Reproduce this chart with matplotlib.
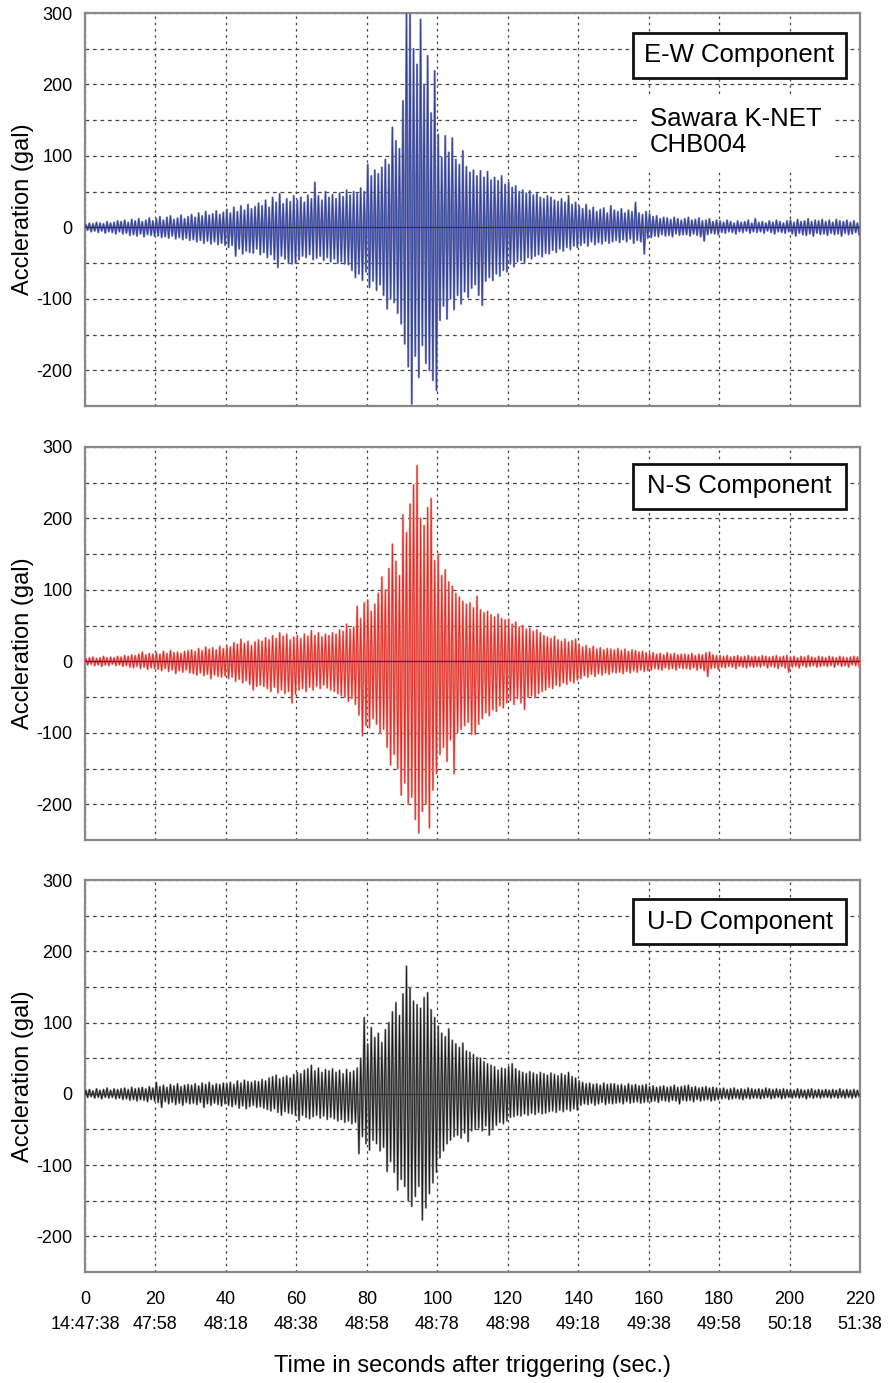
import matplotlib
matplotlib.use('Agg')
import matplotlib.pyplot as plt
import matplotlib.patches as mpatches
import numpy as np

plt.rcParams['font.family'] = ['Liberation Sans', 'DejaVu Sans']
plt.rcParams['axes.unicode_minus'] = False

# axis labels
seconds = [0, 20, 40, 60, 80, 100, 120, 140, 160, 180, 200, 220]
clock_labels = ['14:47:38', '47:58', '48:18', '48:38', '48:58', '48:78',
                '48:98', '49:18', '49:38', '49:58', '50:18', '51:38']
y_ticks = [300, 200, 100, 0, -100, -200]

# per-second peak / trough (gal), t = 0..219 s
ew_upper = [
    4, 6, 5, 7, 6, 5, 8, 6, 7, 9,
    8, 10, 7, 11, 9, 12, 8, 10, 13, 9,
    12, 15, 10, 14, 16, 11, 13, 17, 12, 15,
    18, 14, 20, 16, 22, 17, 19, 23, 18, 21,
    25, 20, 28, 22, 30, 24, 32, 26, 29, 34,
    30, 38, 28, 42, 35, 47, 33, 40, 36, 44,
    38, 42, 35, 45, 40, 63, 44, 38, 50, 42,
    46, 40, 48, 43, 52, 45, 50, 47, 55, 50,
    88, 72, 80, 75, 84, 95, 88, 140, 121, 110,
    177, 300, 298, 250, 228, 291, 200, 240, 160, 219,
    130, 98, 128, 105, 125, 95, 88, 107, 85, 77,
    80, 72, 79, 70, 78, 66, 70, 65, 72, 60,
    63, 56, 58, 50, 52, 48, 51, 45, 47, 42,
    40, 44, 42, 38, 36, 40, 35, 44, 32, 35,
    30, 26, 32, 24, 28, 22, 25, 27, 20, 30,
    24, 22, 26, 20, 24, 22, 35, 20, 18, 22,
    19, 15, 16, 12, 14, 13, 11, 14, 12, 10,
    12, 14, 10, 11, 13, 9, 10, 12, 8, 10,
    9, 7, 10, 8, 6, 9, 7, 8, 10, 6,
    12, 7, 8, 6, 9, 7, 10, 8, 6, 9,
    10, 7, 11, 8, 9, 12, 8, 10, 9, 11,
    8, 10, 7, 11, 9, 8, 10, 7, 9, 6,
]
ew_lower = [
    -4, -6, -5, -7, -5, -8, -6, -7, -9, -6,
    -9, -8, -11, -10, -12, -9, -13, -10, -11, -12,
    -12, -14, -13, -15, -12, -16, -14, -17, -15, -18,
    -17, -20, -18, -22, -19, -23, -20, -24, -22, -25,
    -28, -25, -40, -30, -37, -33, -35, -36, -30, -38,
    -35, -42, -38, -45, -56, -40, -44, -50, -51, -50,
    -45, -40, -42, -38, -45, -43, -40, -46, -42, -48,
    -44, -50, -48, -51, -52, -60, -70, -65, -74, -62,
    -84, -75, -88, -80, -95, -114, -100, -105, -120, -135,
    -163, -195, -247, -180, -210, -165, -190, -200, -214, -228,
    -130, -110, -128, -100, -115, -95, -107, -90, -98, -85,
    -80, -95, -109, -75, -70, -74, -65, -68, -60, -62,
    -51, -55, -48, -46, -50, -42, -44, -40, -38, -41,
    -36, -37, -32, -35, -30, -33, -28, -31, -26, -28,
    -25, -22, -26, -20, -24, -21, -23, -19, -22, -20,
    -18, -21, -17, -20, -16, -22, -18, -20, -37, -15,
    -14, -12, -13, -10, -12, -11, -13, -9, -11, -10,
    -10, -12, -9, -11, -13, -19, -10, -8, -9, -10,
    -7, -8, -6, -7, -9, -6, -7, -5, -8, -6,
    -7, -6, -8, -5, -7, -9, -6, -7, -8, -6,
    -9, -12, -8, -10, -11, -9, -12, -8, -10, -9,
    -11, -8, -10, -9, -12, -8, -10, -9, -7, -10,
]

ns_upper = [
    4, 5, 6, 4, 5, 7, 5, 6, 5, 7,
    6, 8, 7, 9, 8, 10, 13, 9, 11, 10,
    12, 10, 14, 11, 15, 12, 13, 11, 14, 15,
    16, 14, 18, 15, 20, 17, 19, 16, 21, 18,
    22, 20, 26, 24, 31, 25, 28, 22, 27, 30,
    28, 33, 30, 36, 32, 40, 35, 38, 30, 34,
    36, 32, 38, 35, 43, 36, 40, 34, 38, 36,
    40, 38, 44, 42, 52, 45, 48, 77, 60, 82,
    86, 70, 80, 95, 118, 100, 130, 164, 140, 120,
    205, 180, 220, 247, 274, 200, 190, 215, 228, 141,
    150, 120, 128, 111, 105, 95, 90, 84, 80, 82,
    75, 91, 72, 68, 70, 65, 62, 66, 60, 58,
    59, 52, 55, 48, 50, 45, 46, 42, 44, 40,
    36, 34, 32, 35, 30, 28, 31, 27, 29, 31,
    24, 20, 22, 18, 21, 17, 19, 16, 18, 17,
    16, 18, 15, 17, 14, 16, 15, 13, 14, 12,
    11, 12, 10, 11, 9, 12, 10, 11, 9, 10,
    10, 9, 11, 8, 10, 9, 12, 13, 9, 8,
    8, 7, 8, 6, 7, 8, 6, 7, 8, 6,
    7, 6, 8, 7, 6, 7, 8, 6, 7, 8,
    6, 7, 5, 7, 6, 8, 6, 5, 7, 6,
    5, 7, 6, 5, 7, 6, 5, 6, 7, 6,
]
ns_lower = [
    -5, -4, -6, -5, -7, -5, -6, -4, -6, -5,
    -7, -6, -8, -9, -7, -10, -8, -11, -9, -10,
    -11, -13, -10, -14, -12, -17, -13, -15, -12, -16,
    -17, -19, -16, -20, -18, -24, -19, -21, -22, -20,
    -24, -22, -28, -25, -30, -27, -32, -40, -35, -33,
    -35, -38, -42, -36, -44, -40, -45, -42, -58, -46,
    -40, -38, -42, -36, -40, -35, -38, -33, -37, -40,
    -42, -45, -48, -50, -56, -52, -60, -75, -104, -90,
    -93, -80, -88, -100, -95, -120, -145, -130, -150, -187,
    -170, -200, -190, -221, -240, -210, -200, -233, -180, -157,
    -130, -120, -140, -110, -157, -100, -95, -90, -85, -102,
    -102, -88, -80, -72, -76, -68, -70, -62, -65, -58,
    -55, -60, -52, -58, -67, -50, -48, -51, -45, -42,
    -40, -36, -38, -33, -35, -30, -32, -28, -30, -26,
    -24, -20, -22, -18, -21, -17, -19, -16, -18, -15,
    -16, -15, -17, -14, -16, -13, -15, -12, -14, -13,
    -12, -10, -11, -12, -9, -11, -10, -12, -9, -10,
    -10, -11, -9, -12, -10, -13, -21, -10, -9, -11,
    -8, -9, -7, -8, -10, -7, -8, -9, -7, -8,
    -7, -8, -6, -9, -7, -8, -10, -7, -9, -15,
    -8, -7, -9, -6, -8, -7, -6, -8, -7, -6,
    -7, -6, -8, -5, -7, -6, -8, -5, -6, -7,
]

ud_upper = [
    5, 6, 4, 7, 5, 6, 8, 5, 7, 6,
    7, 8, 6, 9, 7, 8, 9, 7, 10, 8,
    16, 10, 12, 9, 13, 11, 14, 10, 12, 13,
    12, 14, 11, 15, 13, 16, 12, 14, 13, 15,
    14, 16, 13, 18, 15, 19, 17, 16, 18, 17,
    20, 18, 22, 24, 26, 21, 23, 25, 22, 27,
    30, 28, 33, 35, 40, 32, 36, 30, 34, 32,
    35, 30, 33, 28, 34, 30, 32, 36, 50, 107,
    70, 93, 79, 85, 72, 90, 100, 115, 128, 110,
    140, 179, 149, 130, 125, 120, 135, 142, 118, 107,
    95, 85, 80, 91, 75, 70, 65, 71, 60, 58,
    55, 51, 50, 45, 42, 40, 38, 33, 36, 35,
    38, 42, 35, 32, 30, 28, 31, 29, 27, 30,
    28, 26, 29, 27, 25, 28, 26, 30, 24, 22,
    18, 16, 14, 15, 13, 14, 12, 15, 13, 14,
    14, 12, 13, 11, 14, 12, 13, 11, 12, 13,
    10, 11, 9, 10, 11, 9, 10, 12, 9, 10,
    11, 12, 9, 10, 8, 9, 10, 8, 9, 8,
    7, 8, 6, 7, 8, 6, 7, 6, 8, 7,
    6, 7, 6, 8, 7, 6, 7, 6, 7, 6,
    6, 5, 7, 6, 5, 6, 7, 5, 6, 5,
    6, 5, 6, 5, 7, 5, 6, 5, 6, 5,
]
ud_lower = [
    -5, -4, -6, -5, -7, -5, -6, -5, -7, -6,
    -8, -7, -9, -8, -10, -8, -9, -11, -8, -10,
    -12, -19, -11, -14, -12, -15, -13, -16, -12, -14,
    -13, -15, -12, -19, -14, -16, -13, -15, -17, -14,
    -16, -18, -15, -20, -17, -21, -18, -16, -19, -18,
    -20, -22, -24, -21, -26, -30, -25, -27, -28, -30,
    -37, -30, -33, -35, -32, -30, -34, -31, -36, -33,
    -35, -38, -36, -40, -38, -42, -40, -84, -60, -70,
    -79, -65, -70, -80, -75, -109, -95, -110, -135, -120,
    -130, -150, -158, -144, -130, -177, -160, -140, -125, -110,
    -90, -80, -70, -65, -60, -58, -62, -55, -67, -52,
    -50, -48, -52, -45, -58, -50, -44, -40, -42, -38,
    -33, -32, -30, -31, -28, -30, -27, -29, -26, -28,
    -27, -25, -24, -26, -23, -25, -22, -24, -21, -23,
    -16, -14, -15, -13, -16, -14, -12, -15, -13, -14,
    -13, -12, -14, -11, -13, -12, -11, -13, -12, -11,
    -11, -10, -12, -9, -10, -11, -9, -10, -14, -9,
    -10, -9, -11, -8, -10, -9, -8, -10, -9, -8,
    -7, -6, -8, -7, -6, -7, -8, -6, -7, -6,
    -6, -7, -6, -5, -7, -6, -5, -7, -6, -5,
    -6, -5, -6, -5, -7, -5, -6, -5, -6, -5,
    -5, -6, -5, -6, -5, -6, -5, -6, -5, -4,
]


def zigzag(upper, lower):
    # peak in the first half of each second, trough in the second half
    n = len(upper)
    t = np.zeros(2 * n + 1)
    a = np.zeros(2 * n + 1)
    t[1::2] = np.arange(n) + 0.25
    t[2::2] = np.arange(n) + 0.75
    a[1::2] = upper
    a[2::2] = lower
    return t, a


# rect, upper, lower, light colour, dark colour, label, box centre (axes frac)
panels = [
    ([0.0949, 0.7064, 0.865, 0.2842], ew_upper, ew_lower, '#7880BC', '#27388F', 'E-W Component', 0.892),
    ([0.0949, 0.3926, 0.865, 0.2842], ns_upper, ns_lower, '#EE8A80', '#E01E1A', 'N-S Component', 0.8995),
    ([0.0949, 0.0803, 0.865, 0.2834], ud_upper, ud_lower, '#8C8C8C', '#0A0A0A', 'U-D Component', 0.894),
]

fig = plt.figure(figsize=(8.96, 13.83), dpi=100)

for i, (rect, up, lo, light, dark, title, ybox) in enumerate(panels):
    ax = fig.add_axes(rect)
    t, a = zigzag(up, lo)
    ax.plot(t, a, color=light, linewidth=1.5, zorder=3)
    ax.plot(t, a, color=dark, linewidth=0.6, alpha=0.9, zorder=3)
    ax.axhline(0, color='#333333', linewidth=0.9, zorder=4)

    ax.set_xlim(0, 220)
    ax.set_ylim(-250, 300)
    ax.set_xticks(seconds)
    ax.set_yticks(y_ticks)
    ax.set_yticks(np.arange(-200, 301, 50), minor=True)
    ax.grid(which='both', axis='y', color='#444444', linestyle=(0, (3, 3)), linewidth=0.9)
    ax.grid(which='major', axis='x', color='#444444', linestyle=(0, (2, 3)), linewidth=0.9)
    ax.set_axisbelow(True)
    ax.tick_params(which='both', length=0)
    ax.tick_params(axis='y', labelsize=13, pad=9)
    for sp in ax.spines.values():
        sp.set_color('#888888')
        sp.set_linewidth(1.6)

    ax.set_ylabel('Accleration (gal)', fontsize=17)
    ax.yaxis.set_label_coords(-0.066, 0.5)

    if i == 2:
        ax.set_xticklabels([f'{s}\n{c}' for s, c in zip(seconds, clock_labels)],
                           fontsize=13, linespacing=1.6)
        ax.tick_params(axis='x', pad=14)
    else:
        ax.set_xticklabels([])

    # component label box (fixed width)
    h = 0.1145
    ax.add_patch(mpatches.Rectangle((0.7071, ybox - h / 2), 0.2748, h,
                                    transform=ax.transAxes, facecolor='white',
                                    edgecolor='#111111', linewidth=2.0, zorder=6))
    ax.text(0.8445, ybox, title, transform=ax.transAxes, ha='center', va='center',
            fontsize=18.5, zorder=7)

    if i == 0:
        ax.text(0.729, 0.762, 'Sawara K-NET\nCHB004', transform=ax.transAxes,
                ha='left', va='top', fontsize=18.5, linespacing=1.15, zorder=5,
                bbox=dict(facecolor='white', edgecolor='none', pad=9))

fig.text(0.5275, 0.0123, 'Time in seconds after triggering (sec.)',
         ha='center', va='center', fontsize=17)

plt.savefig('out.png', dpi=100, facecolor='white')
